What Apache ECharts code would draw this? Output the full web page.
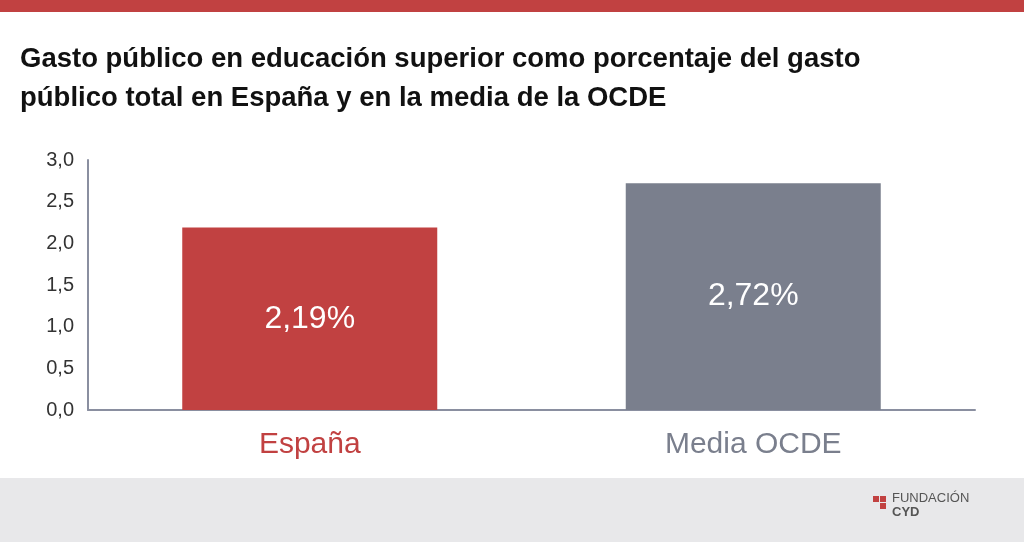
<!DOCTYPE html>
<html><head><meta charset="utf-8">
<script src="https://cdn.jsdelivr.net/npm/echarts@6/dist/echarts.min.js"></script>
<style>body{margin:0}#c{width:1024px;height:542px}</style></head>
<body><div id="c"></div>
<script>
const categories=["España","Media OCDE"];
const values=[2.19,2.72];
const labels=["2,19%","2,72%"];
const colors=["#c14141","#7a7f8d"];
const chart=echarts.init(document.getElementById('c'));
chart.setOption({
 backgroundColor:'#fff',
 graphic:[
  {type:'rect',shape:{x:0,y:0,width:1024,height:12},style:{fill:'#c14141'}},
  {type:'rect',shape:{x:0,y:478,width:1024,height:64},style:{fill:'#e8e8ea'}},
  {type:'text',left:20,top:40,style:{text:'Gasto público en educación superior como porcentaje del gasto\npúblico total en España y en la media de la OCDE',font:'bold 27.5px "Liberation Sans", Arial',lineHeight:39,fill:'#111'}},
  {type:'rect',shape:{x:873,y:496,width:6,height:6},style:{fill:'#c14141'}},
  {type:'rect',shape:{x:880,y:496,width:6,height:6},style:{fill:'#c14141'}},
  {type:'rect',shape:{x:880,y:503,width:6,height:6},style:{fill:'#c14141'}},
  {type:'text',left:892,top:492,style:{text:'FUNDACIÓN',font:'13px "Liberation Sans"',fill:'#555'}},
  {type:'text',left:892,top:506,style:{text:'CYD',font:'bold 13px "Liberation Sans"',fill:'#555'}}
 ],
 grid:{left:88,right:49,top:160,bottom:132},
 xAxis:{type:'category',data:categories,axisTick:{show:false},
  axisLine:{lineStyle:{color:'#8a8fa0',width:2}},
  axisLabel:{fontSize:30,margin:20,fontFamily:'Liberation Sans',
   color:(v,i)=>colors[i]}},
 yAxis:{type:'value',min:0,max:3,interval:0.5,splitLine:{show:false},
  axisLine:{show:true,lineStyle:{color:'#8a8fa0',width:2}},
  axisLabel:{fontSize:20,color:'#333',margin:14,fontFamily:'Liberation Sans',formatter:v=>v.toFixed(1).replace('.',',')}},
 series:[{type:'bar',barWidth:255,
  data:values.map((v,i)=>({value:v,itemStyle:{color:colors[i]}})),
  label:{show:true,position:'inside',fontSize:32,color:'#fff',fontFamily:'Liberation Sans',formatter:p=>labels[p.dataIndex]}}]
});
</script></body></html>
